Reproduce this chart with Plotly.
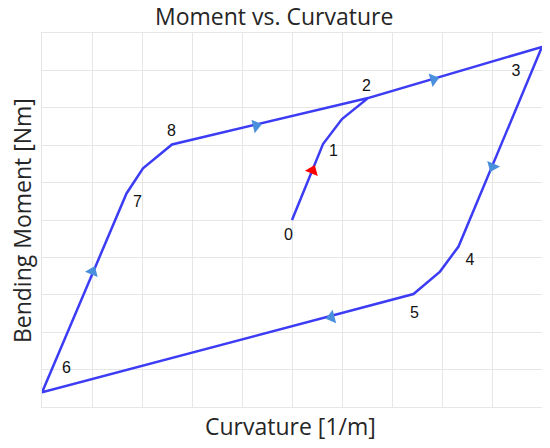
import math
import plotly.graph_objects as go

# Path of the moment-curvature loop (grid units)
path_x = [5.0, 5.62, 6.0, 6.52, 10.0, 8.33, 7.96, 7.43, 0.0, 1.69, 2.02, 2.6, 6.52]
path_y = [5.0, 7.03, 7.7, 8.26, 9.63, 4.29, 3.62, 3.02, 0.39, 5.71, 6.38, 7.02, 8.26]

# Point labels
label_text = ["0", "1", "2", "3", "4", "5", "6", "7", "8"]
label_x = [4.93, 5.83, 6.49, 9.48, 8.56, 7.45, 0.49, 1.91, 2.59]
label_y = [4.57, 6.81, 8.56, 8.97, 3.90, 2.50, 1.01, 5.45, 7.36]

# Direction arrows: position and the path segment (start index) they lie on
arrow_x = [5.41, 7.83, 9.01, 5.79, 1.01, 4.28]
arrow_y = [6.32, 8.76, 6.43, 2.40, 3.62, 7.52]
arrow_seg = [0, 3, 4, 7, 8, 11]
arrow_col = ["#ff0000", "#4a8fdc", "#4a8fdc", "#4a8fdc", "#4a8fdc", "#4a8fdc"]

# The page body has an 8px margin, so the figure is offset by 8px.
W, H = 542, 440
ML, MR, MT, MB = 34, 8, 25, 41
px_x = (W - ML - MR) / 10.0
px_y = (H - MT - MB) / 10.0

angles = []
for s in arrow_seg:
    dx = (path_x[s + 1] - path_x[s]) * px_x
    dy = (path_y[s + 1] - path_y[s]) * px_y
    angles.append(math.degrees(math.atan2(dx, dy)))

fig = go.Figure()
fig.add_trace(go.Scatter(
    x=path_x, y=path_y, mode="lines",
    line=dict(color="#3c3cf5", width=2.5),
    cliponaxis=False, hoverinfo="skip", showlegend=False,
))
fig.add_trace(go.Scatter(
    x=arrow_x, y=arrow_y, mode="markers",
    marker=dict(symbol="triangle-up", size=12, color=arrow_col, angle=angles,
                line=dict(width=0)),
    cliponaxis=False, hoverinfo="skip", showlegend=False,
))
fig.add_trace(go.Scatter(
    x=label_x, y=label_y, mode="text", text=label_text,
    textfont=dict(family="Liberation Sans, Arial", size=16, color="#111111"),
    cliponaxis=False, hoverinfo="skip", showlegend=False,
))

axis_common = dict(
    range=[0, 10], dtick=1, tick0=0, showticklabels=False, ticks="",
    showgrid=True, gridcolor="#e6e6e6", gridwidth=1, zeroline=False,
    showline=True, linecolor="#e6e6e6", linewidth=1, mirror=True, fixedrange=True,
)
fig.update_xaxes(**axis_common)
fig.update_yaxes(**axis_common)

tfont = dict(family="Open Sans", size=23, color="#262626")
fig.update_layout(
    width=W, height=H,
    margin=dict(l=ML, r=MR, t=MT, b=MB),
    paper_bgcolor="white", plot_bgcolor="white",
    showlegend=False,
    annotations=[
        dict(text="Moment vs. Curvature", xref="paper", yref="paper",
             x=0.464, y=1.045, xanchor="center", yanchor="middle",
             showarrow=False, font=tfont),
        dict(text="Curvature [1/m]", xref="paper", yref="paper",
             x=0.496, y=-0.051, xanchor="center", yanchor="middle",
             showarrow=False, font=tfont),
        dict(text="Bending Moment [Nm]", xref="paper", yref="paper",
             x=-0.04, y=0.497, xanchor="center", yanchor="middle",
             textangle=-90, showarrow=False, font=tfont),
    ],
)

fig.write_html("out.html")
